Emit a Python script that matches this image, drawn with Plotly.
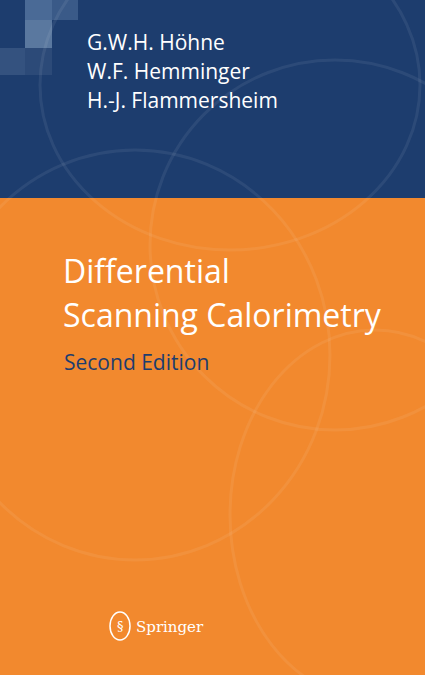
import plotly.graph_objects as go

# cover texts
authors = ["G.W.H. Höhne", "W.F. Hemminger", "H.-J. Flammersheim"]
author_y = [42, 71, 100]
title_lines = ["Differential", "Scanning Calorimetry"]
title_y = [270, 314]
edition = "Second Edition"
publisher = "Springer"

W, H = 425, 675
split_y = 198

fig = go.Figure()
fig.add_trace(go.Scatter(x=[0, W], y=[0, H], mode="markers", marker=dict(opacity=0), hoverinfo="skip"))

# background panels
fig.add_shape(type="rect", x0=0, x1=W, y0=0, y1=split_y, fillcolor="#1d3d6e", line_width=0, layer="below")
fig.add_shape(type="rect", x0=0, x1=W, y0=split_y, y1=H, fillcolor="#f2892e", line_width=0, layer="below")

# top-left squares
squares = [(25, 0, 52, 20, "#4a6a96"), (52, 0, 78, 20, "#3a5a88"), (25, 20, 52, 48, "#5a789f"),
           (0, 48, 25, 75, "#34527f"), (25, 48, 52, 75, "#2c4a78")]
for x0, y0, x1, y1, c in squares:
    fig.add_shape(type="rect", x0=x0, x1=x1, y0=y0, y1=y1, fillcolor=c, line_width=0, layer="below")

# faint decorative arcs
arcs = [(150, 60, 520, 430), (-60, 150, 330, 560), (230, 330, 520, 700), (40, -80, 420, 250)]
for x0, y0, x1, y1 in arcs:
    fig.add_shape(type="circle", x0=x0, x1=x1, y0=y0, y1=y1, line=dict(color="rgba(255,255,255,0.07)", width=3))

for t, y in zip(authors, author_y):
    fig.add_annotation(x=85, y=y, text=t, showarrow=False, xanchor="left",
                       font=dict(family="Open Sans", size=21, color="white"))
for t, y in zip(title_lines, title_y):
    fig.add_annotation(x=61, y=y, text=t, showarrow=False, xanchor="left",
                       font=dict(family="Open Sans", size=32, color="white"))
fig.add_annotation(x=62, y=362, text=edition, showarrow=False, xanchor="left",
                   font=dict(family="Open Sans", size=21, color="#1d3d6e"))

# springer logo (simple)
fig.add_shape(type="circle", x0=110, x1=130, y0=612, y1=640, line=dict(color="white", width=1.5))
fig.add_annotation(x=120, y=626, text="§", showarrow=False, font=dict(family="DejaVu Serif", size=13, color="white"))
fig.add_annotation(x=134, y=627, text=publisher, showarrow=False, xanchor="left",
                   font=dict(family="DejaVu Serif", size=15, color="white"))

fig.update_xaxes(range=[0, W], visible=False)
fig.update_yaxes(range=[H, 0], visible=False)
fig.update_layout(width=W, height=H, margin=dict(l=0, r=0, t=0, b=0), showlegend=False,
                  plot_bgcolor="#f2892e", paper_bgcolor="#f2892e")
fig.write_html("out.html", config={"displayModeBar": False},
               post_script="document.body.style.margin='0';")
